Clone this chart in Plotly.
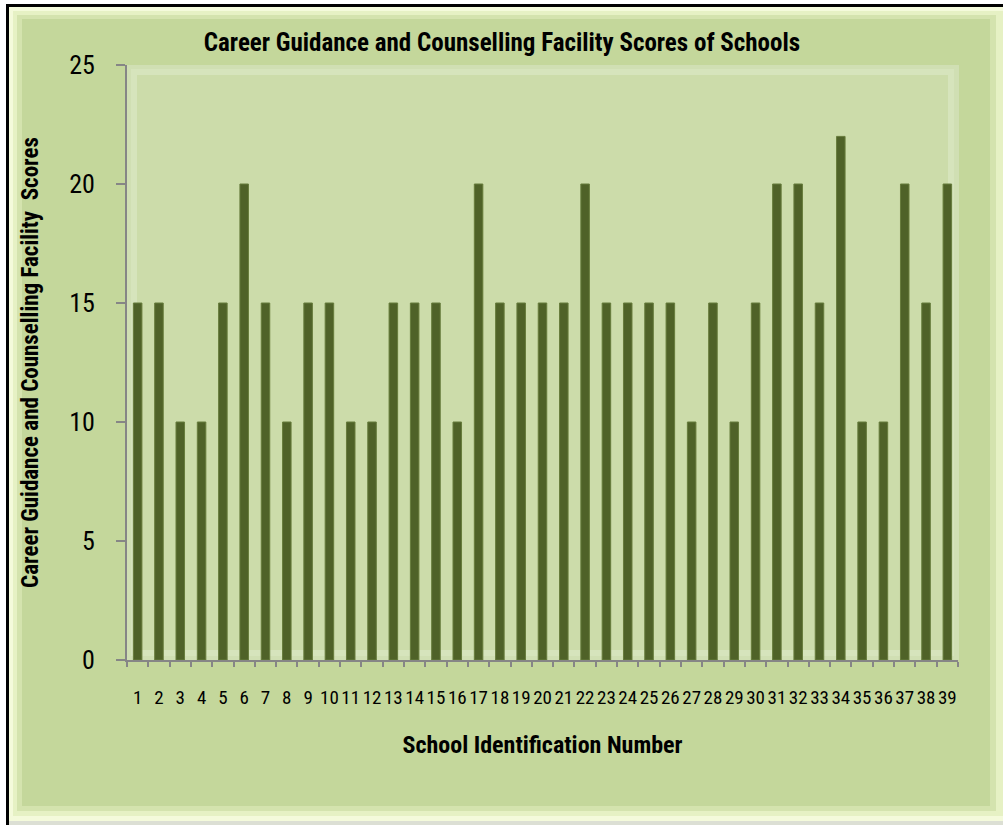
import plotly.graph_objects as go

# School identification numbers and their career guidance & counselling scores
schools = [str(i) for i in range(1, 40)]
scores = [15, 15, 10, 10, 15, 20, 15, 10, 15, 15,
          10, 10, 15, 15, 15, 10, 20, 15, 15, 15,
          15, 20, 15, 15, 15, 15, 10, 15, 10, 15,
          20, 20, 15, 22, 10, 10, 20, 15, 20]
y_ticks = [0, 5, 10, 15, 20, 25]

W, H = 1003, 825
L, R, T, B = 127, 958, 65, 660   # plot area in pixels

FONT = "Liberation Sans Narrow, Arial Narrow, Roboto Condensed, DejaVu Sans Condensed, sans-serif"


def px(x):
    return (x - L) / (R - L)


def py(y):
    return (B - y) / (B - T)


def rect(x0, y0, x1, y1, fill):
    return dict(type="rect", xref="paper", yref="paper", layer="below",
                x0=px(x0), x1=px(x1), y0=py(y1), y1=py(y0),
                fillcolor=fill, line=dict(width=0))


shapes = [
    # frame: dark rule on the left and top, light bevel inside
    rect(0, 0, W, 4, "#FFFFFF"),
    rect(0, 0, 6, H, "#FFFFFF"),
    rect(6, 4, W, 7, "#000000"),
    rect(6, 4, 9, H, "#000000"),
    rect(9, 7, W, 821, "#F4FADB"),
    rect(13, 11, W, 816, "#E6F1C4"),
    rect(17, 15, 996, 811, "#D4E3AE"),
    rect(22, 19, 990, 806, "#C4D79B"),
    # plot area bevel
    rect(L, T, R + 1, B, "#D0DFB3"),
    rect(L + 4, T + 4, R - 4, B - 4, "#D6E4BC"),
    rect(L + 10, T + 10, R - 10, B - 10, "#CCDCAA"),
]

fig = go.Figure(go.Bar(
    x=schools, y=scores,
    marker=dict(color="#4F6228", line=dict(color="#677C3C", width=1)),
    width=0.4,
))

fig.update_layout(
    width=W, height=H,
    margin=dict(l=L, r=W - R, t=T, b=H - B),
    paper_bgcolor="#DCDFD4",
    plot_bgcolor="rgba(0,0,0,0)",
    showlegend=False,
    shapes=shapes,
    font=dict(family=FONT, color="#000000"),
    title=dict(text="<b>Career Guidance and Counselling Facility Scores of Schools</b>",
               x=px(502), xanchor="center", xref="paper",
               y=1 - 42 / H, yanchor="middle",
               font=dict(family=FONT, size=25, color="#000000")),
)

fig.update_xaxes(
    type="category", tickson="boundaries", tickangle=0, dtick=1,
    showline=True, linecolor="#868686", linewidth=2,
    ticks="outside", ticklen=5, tickcolor="#868686", tickwidth=1.5,
    ticklabelstandoff=19,
    tickfont=dict(family=FONT, size=19),
    showgrid=False, zeroline=False,
    title=dict(text="<b>School Identification Number</b>", standoff=28,
               font=dict(family=FONT, size=24)),
)
fig.update_yaxes(
    range=[0, 25], tickvals=y_ticks,
    showline=True, linecolor="#868686", linewidth=2,
    ticks="outside", ticklen=9, tickcolor="#868686", tickwidth=1.5,
    ticklabelstandoff=16,
    tickfont=dict(family=FONT, size=26),
    showgrid=False, zeroline=False,
    title=dict(text="<b>Career Guidance and Counselling Facility  Scores</b>", standoff=24,
               font=dict(family=FONT, size=23)),
)

fig.write_html("out.html")
